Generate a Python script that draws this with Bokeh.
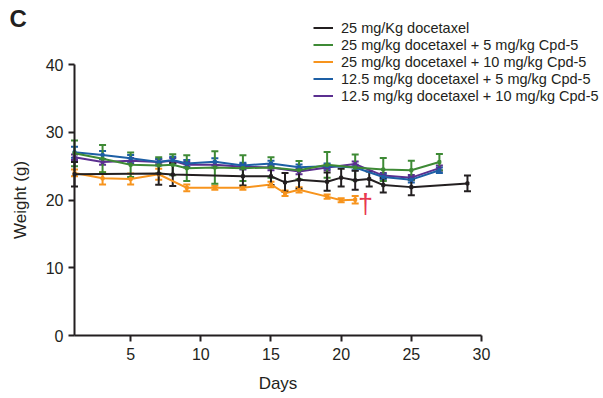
from bokeh.plotting import figure
from bokeh.models import (Range1d, FixedTicker, Legend, LegendItem, Whisker, TeeHead,
                          ColumnDataSource, Label)
from bokeh.core.properties import value
from bokeh.embed import file_html
from bokeh.resources import INLINE

FONT = "Liberation Sans"

# ---- data ----
black_days = [1, 7, 8, 13, 15, 16, 17, 19, 20, 21, 22, 23, 25, 29]
black_w    = [23.8, 23.9, 23.75, 23.5, 23.5, 22.6, 23.0, 22.7, 23.3, 22.9, 23.1, 22.2, 21.9, 22.45]
black_err  = [1.8, 1.65, 1.7, 1.35, 1.3, 1.4, 1.35, 1.35, 1.3, 1.4, 1.1, 1.1, 1.2, 1.15]

green_days = [1, 3, 5, 7, 8, 9, 11, 13, 15, 17, 19, 21, 23, 25, 27]
green_w    = [26.9, 26.1, 25.2, 25.1, 25.2, 24.7, 24.8, 24.7, 24.8, 24.4, 25.2, 24.8, 24.5, 24.4, 25.6]
green_err  = [1.9, 2.0, 1.8, 1.2, 1.55, 1.9, 2.4, 1.9, 1.5, 1.35, 1.9, 1.9, 1.7, 1.4, 1.2]

orange_days = [1, 3, 5, 7, 9, 11, 13, 15, 16, 17, 19, 20, 21]
orange_w    = [24.0, 23.2, 23.1, 23.8, 21.8, 21.8, 21.8, 22.3, 21.0, 21.5, 20.5, 19.95, 20.05]
orange_err  = [0.5, 0.9, 0.8, 0.8, 0.5, 0.3, 0.3, 0.4, 0.4, 0.4, 0.3, 0.3, 0.55]

blue_days = [1, 3, 5, 7, 8, 9, 11, 13, 15, 17, 19, 21, 23, 25, 27]
blue_w    = [27.05, 26.65, 26.15, 25.6, 25.9, 25.4, 25.65, 25.1, 25.4, 24.85, 25.0, 24.8, 23.4, 23.0, 24.4]
blue_err  = [0.8, 0.6, 0.5, 0.5, 0.5, 0.5, 0.5, 0.4, 0.4, 0.4, 0.4, 0.4, 0.4, 0.4, 0.4]

purple_days = [1, 3, 5, 7, 8, 9, 11, 13, 15, 17, 19, 21, 23, 25, 27]
purple_w    = [26.3, 25.6, 25.8, 25.6, 25.8, 25.2, 25.2, 24.9, 24.8, 24.2, 24.8, 25.3, 23.6, 23.3, 24.7]
purple_err  = [0.4, 0.4, 0.4, 0.4, 0.4, 0.4, 0.4, 0.4, 0.4, 0.4, 0.4, 0.4, 0.4, 0.4, 0.4]

labels = ["25 mg/Kg docetaxel",
          "25 mg/kg docetaxel + 5 mg/kg Cpd-5",
          "25 mg/kg docetaxel + 10 mg/kg Cpd-5",
          "12.5 mg/kg docetaxel + 5 mg/kg Cpd-5",
          "12.5 mg/kg docetaxel + 10 mg/kg Cpd-5"]
colors = ["#231f20", "#3e8a35", "#f7941d", "#1d5fa5", "#5b2f90"]

x_ticks = [5, 10, 15, 20, 25, 30]
y_ticks = [0, 10, 20, 30, 40]
x_bounds = (1, 30)
y_bounds = (0, 40)

dagger_day = [21.74]
dagger_w = [19.4]

series = {
    0: (black_days, black_w, black_err),
    1: (green_days, green_w, green_err),
    2: (orange_days, orange_w, orange_err),
    3: (blue_days, blue_w, blue_err),
    4: (purple_days, purple_w, purple_err),
}

W, H = 603, 398
# frame covers the whole canvas; axes are pinned inside it
px_left, px_right = 74.0, 481.0
px_top, px_bottom = 64.0, 335.0
sx = (px_right - px_left) / (x_bounds[1] - x_bounds[0])
sy = (px_bottom - px_top) / (y_bounds[1] - y_bounds[0])
x_rng = Range1d(x_bounds[0] - px_left / sx, x_bounds[0] + (W - px_left) / sx)
y_rng = Range1d(y_bounds[0] - (H - px_bottom) / sy, y_bounds[0] + px_bottom / sy)

p = figure(width=W, height=H, x_range=x_rng, y_range=y_rng,
           output_backend="svg", toolbar_location=None,
           min_border=0)
p.outline_line_color = None
p.xgrid.visible = False
p.ygrid.visible = False
p.background_fill_color = "white"
p.border_fill_color = "white"

for ax in (p.xaxis[0], p.yaxis[0]):
    ax.axis_line_color = "#231f20"
    ax.axis_line_width = 2
    ax.major_tick_line_color = "#231f20"
    ax.major_tick_line_width = 2
    ax.major_tick_out = 6
    ax.major_tick_in = 0
    ax.minor_tick_line_color = None
    ax.major_label_text_font = FONT
    ax.major_label_text_font_size = "16px"
    ax.major_label_text_color = "#231f20"
    ax.axis_label_text_font = FONT
    ax.axis_label_text_font_size = "17px"
    ax.axis_label_text_font_style = "normal"
    ax.axis_label_text_color = "#231f20"

p.xaxis.ticker = FixedTicker(ticks=x_ticks)
p.yaxis.ticker = FixedTicker(ticks=y_ticks)
p.xaxis.bounds = x_bounds
p.yaxis.bounds = y_bounds
p.xaxis.fixed_location = y_bounds[0]
p.yaxis.fixed_location = x_bounds[0]
p.xaxis.axis_label = "Days"
p.yaxis.axis_label = "Weight (g)"
p.xaxis.major_label_standoff = 6
p.yaxis.major_label_standoff = 5
p.xaxis.axis_label_standoff = 11
p.yaxis.axis_label_standoff = 13

draw_order = [4, 3, 2, 1, 0]
renderers = {}
for i in draw_order:
    d, w, e = series[i]
    src = ColumnDataSource(dict(x=d, y=w, lo=[a - b for a, b in zip(w, e)],
                                hi=[a + b for a, b in zip(w, e)]))
    c = colors[i]
    wh = Whisker(source=src, base="x", lower="lo", upper="hi",
                 line_color=c, line_width=2,
                 lower_head=TeeHead(size=7, line_color=c, line_width=2),
                 upper_head=TeeHead(size=7, line_color=c, line_width=2))
    p.add_layout(wh)
    ln = p.line("x", "y", source=src, line_color=c, line_width=2)
    sc = p.scatter("x", "y", source=src, marker="square", size=3, color=c)
    renderers[i] = [ln]

p.text(x=dagger_day, y=dagger_w, text=["†"], text_color="#e8384f",
       text_font=value(FONT), text_font_size="27px",
       text_align="center", text_baseline="middle")

items = [LegendItem(label=labels[i], renderers=renderers[i]) for i in range(5)]
legend = Legend(items=items, location=(313, H - 104), padding=0, margin=0,
                border_line_alpha=0, background_fill_alpha=0,
                glyph_width=20, glyph_height=17, label_height=17, spacing=0,
                label_standoff=8, label_text_font=FONT, label_text_font_size="14.5px",
                label_text_color="#231f20")
p.add_layout(legend, "center")

p.add_layout(Label(x=9, y=H - 18, x_units="screen", y_units="screen", text="C",
                   text_font=FONT, text_font_size="24px", text_font_style="bold",
                   text_color="#231f20", text_baseline="middle", text_align="left"))

open("out.html", "w").write(file_html(p, INLINE))
